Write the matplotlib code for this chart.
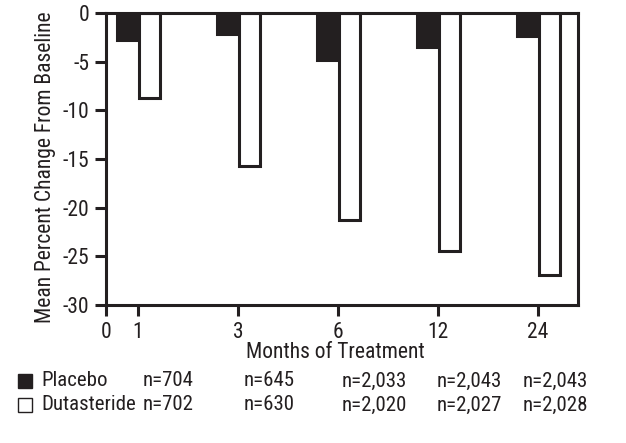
import matplotlib
matplotlib.use('Agg')
import matplotlib.pyplot as plt
from matplotlib.patches import Rectangle

plt.rcParams['font.family'] = ['Roboto Condensed', 'Archivo Narrow', 'DejaVu Sans']

# datos
meses = ['1', '3', '6', '12', '24']
placebo = [-2.8, -2.2, -4.8, -3.5, -2.4]
dutasteride = [-8.7, -15.7, -21.3, -24.5, -26.9]
n_placebo = ['n=704', 'n=645', 'n=2,033', 'n=2,043', 'n=2,043']
n_duta = ['n=702', 'n=630', 'n=2,020', 'n=2,027', 'n=2,028']

W, H = 626, 443
fig = plt.figure(figsize=(W / 100, H / 100), dpi=100)

def fx(px):
    return px / W

def fy(py):
    return 1 - py / H

ax = fig.add_axes([fx(106), fy(305), fx(578) - fx(106), fy(13) - fy(305)])

pos = [0.32 + i for i in range(len(meses))]
ancho = 0.21
ax.bar([p - ancho / 2 for p in pos], placebo, width=ancho, color='#231f20',
       edgecolor='#231f20', linewidth=2.2)
ax.bar([p + ancho / 2 + 0.01 for p in pos], dutasteride, width=ancho, color='white',
       edgecolor='#231f20', linewidth=2.2)

ax.set_xlim(0, 4.72)
ax.set_ylim(-30, 0)
ax.set_xticks([0] + pos)
ax.set_xticklabels(['0'] + meses)
ax.set_yticks([0, -5, -10, -15, -20, -25, -30])
ax.set_yticklabels(['0', '-5', '-10', '-15', '-20', '-25', '-30'])
ax.tick_params(axis='both', direction='out', length=8, width=2.2, color='#231f20',
               labelsize=15.5, labelcolor='#231f20', pad=4)
for s in ax.spines.values():
    s.set_linewidth(2.2)
    s.set_color('#231f20')
    s.set_capstyle('projecting')

ax.set_ylabel('Mean Percent Change From Baseline', fontsize=15.5, color='#231f20')
ax.yaxis.set_label_coords(-50 / 472, 0.473)
fig.text(fx(335), fy(353), 'Months of Treatment', fontsize=15.5, color='#231f20',
         ha='center', va='center')

# leyenda con n
fig.add_artist(Rectangle((fx(18), fy(388)), fx(14), fy(374) - fy(388),
                         transform=fig.transFigure, facecolor='#231f20', edgecolor='#231f20', lw=1))
fig.add_artist(Rectangle((fx(18), fy(412)), fx(14), fy(398) - fy(412),
                         transform=fig.transFigure, facecolor='white', edgecolor='#231f20', lw=1))
fig.text(fx(41), fy(381), 'Placebo', fontsize=15, color='#231f20', va='center')
fig.text(fx(41), fy(405), 'Dutasteride', fontsize=15, color='#231f20', va='center')
cols = [143, 244, 342, 437, 523]
for c, a, b in zip(cols, n_placebo, n_duta):
    fig.text(fx(c), fy(381), a, fontsize=15, color='#231f20', va='center')
    fig.text(fx(c), fy(405), b, fontsize=15, color='#231f20', va='center')

fig.savefig('out.png', dpi=100)
